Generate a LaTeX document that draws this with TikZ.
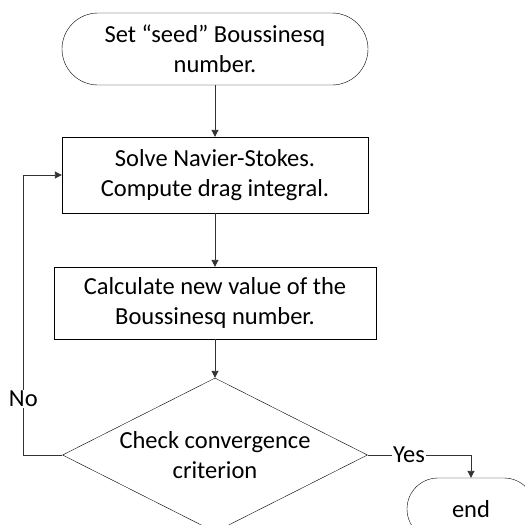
\documentclass[tikz,border=0pt]{standalone}
\usepackage{fontspec}
\setmainfont{Carlito}
\usetikzlibrary{arrows.meta,positioning,calc,shapes.geometric}

\begin{document}
\begin{tikzpicture}[
    x=1pt,y=-1pt,
    every node/.style={font=\fontsize{24.5}{30}\selectfont},
    term/.style={draw,rounded corners=36pt,minimum height=72pt,align=center,inner sep=0pt},
    box/.style={draw,minimum height=72pt,align=center,inner sep=0pt},
    decide/.style={draw,diamond,aspect=2,inner sep=0pt,align=center},
    flow/.style={draw=black!80,line width=0.9pt,-{Triangle[width=7pt,length=7pt]}},
    lbl/.style={fill=white,inner sep=1pt}
]
\useasboundingbox (0,0) rectangle (525,525);
\clip (0,0) rectangle (525,525);
\node[term,minimum width=306pt]  (seed)  at (215,49)  {Set ``seed'' Boussinesq\\number.};
\node[box,minimum width=306pt,minimum height=76pt] (solve) at (215,175) {Solve Navier-Stokes.\\Compute drag integral.};
\node[box,minimum width=322pt]   (calc)  at (215,303) {Calculate new value of the\\Boussinesq number.};
\node[decide,minimum width=305pt,minimum height=154pt] (check) at (215,455) {Check convergence\\criterion};
\node[term,minimum width=128pt,minimum height=62pt,rounded corners=31pt] (stop) at (471,509) {end};
\draw[flow] (seed) -- (solve);
\draw[flow] (solve) -- (calc);
\draw[flow] (calc) -- (check);
\draw[flow] (check.west) -- ++(-39,0) |- node[lbl,pos=0.1] {No} (solve.west);
\draw[flow] (check.east) -| node[lbl,pos=0.2] {Yes} (stop.north);
\end{tikzpicture}
\end{document}
